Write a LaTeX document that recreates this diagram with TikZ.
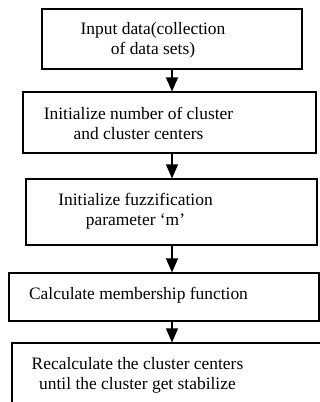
\documentclass[tikz,border=0pt]{standalone}
\usepackage{fontspec}
\setmainfont{Liberation Serif}
\usetikzlibrary{arrows.meta}

\begin{document}
\begin{tikzpicture}[x=1bp,y=-1bp,
    box/.style={draw, line width=1.1bp, inner sep=0pt},
    txt/.style={align=center, inner sep=0pt, font=\fontsize{17.5}{20}\selectfont},
    arr/.style={line width=1.1bp, -{Triangle[length=14bp,width=12bp]}}]
      \useasboundingbox (0,0) rectangle (320,402);

      \node[box, minimum width=260bp, minimum height=60bp] (b1) at (172,39) {};
      \node[box, minimum width=293bp, minimum height=61bp] (b2) at (169.5,122.5) {};
      \node[box, minimum width=291bp, minimum height=66bp] (b3) at (171.5,212) {};
      \node[box, minimum width=310bp, minimum height=48bp] (b4) at (164,297) {};
      \node[box, minimum width=320bp, minimum height=70bp] (b5) at (172,378) {};

      \node[txt] (t1) at (153,40) {Input data(collection\\of data sets)};
      \node[txt] (t2) at (138.5,123) {Initialize number of cluster\\and cluster centers};
      \node[txt] (t3) at (135.5,211) {Initialize fuzzification\\parameter `m'};
      \node[txt] (t4) at (138.5,295) {Calculate membership function};
      \node[txt] (t5) at (137.5,375) {Recalculate the cluster centers\\until the cluster get stabilize};

      \draw[arr] (b1.south) -- (b1.south |- b2.north);
      \draw[arr] (b2.south -| b1.south) -- (b3.north -| b1.south);
      \draw[arr] (b3.south -| b1.south) -- (b4.north -| b1.south);
      \draw[arr] (b4.south -| b1.south) -- (b5.north -| b1.south);

    \end{tikzpicture}
\end{document}
